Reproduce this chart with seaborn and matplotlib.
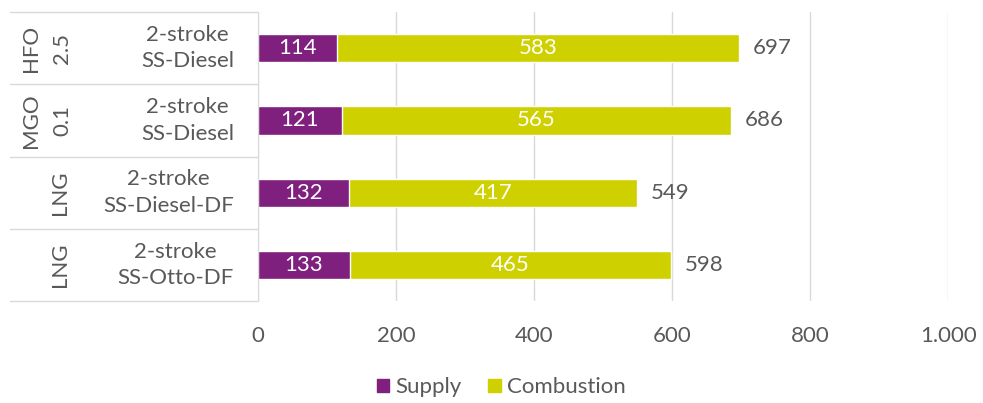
import pandas as pd
import matplotlib.pyplot as plt
import seaborn as sns
from matplotlib.patches import Patch
from matplotlib.transforms import blended_transform_factory

fuels = ['HFO\n2.5', 'MGO\n0.1', 'LNG', 'LNG']
engines = ['2-stroke\nSS-Diesel', '2-stroke\nSS-Diesel', '2-stroke\nSS-Diesel-DF', '2-stroke\nSS-Otto-DF']
supply = [114, 121, 132, 133]
combustion = [583, 565, 417, 465]
xticks = [0, 200, 400, 600, 800, 1000]
xtick_labels = ['0', '200', '400', '600', '800', '1.000']

purple = '#7f1f7e'
yellow = '#cfd000'
gray = '#595959'
fs = 16

sns.set_style('white')
plt.rcParams['font.family'] = ['Lato', 'DejaVu Sans']

df = pd.DataFrame({'row': [str(i) for i in range(len(supply))],
                   'Supply': supply, 'Combustion': combustion})
df['Total'] = df['Supply'] + df['Combustion']

fig = plt.figure(figsize=(9.83, 4.03), dpi=100)
ax = fig.add_axes([0.2625, 0.253, 0.702, 0.717])

# stacked: draw the total in yellow, then supply on top in purple
sns.barplot(data=df, x='Total', y='row', color=yellow, width=0.39, ax=ax, saturation=1)
sns.barplot(data=df, x='Supply', y='row', color=purple, width=0.39, ax=ax, saturation=1)

ax.set_xlim(0, 1000)
ax.set_ylim(3.5, -0.5)
ax.set_xticks(xticks)
ax.set_xticklabels(xtick_labels, fontsize=fs, color=gray)
ax.tick_params(axis='x', length=0, pad=18)
ax.set_yticks([])
ax.set_xlabel('')
ax.set_ylabel('')
ax.grid(axis='x', color='#d9d9d9', linewidth=1)
ax.set_axisbelow(True)
for s in ['top', 'right', 'bottom']:
    ax.spines[s].set_visible(False)
ax.spines['left'].set_color('#d9d9d9')

for i in range(len(supply)):
    ax.text(supply[i] / 2, i, str(supply[i]), ha='center', va='center', color='white', fontsize=fs)
    ax.text(supply[i] + combustion[i] / 2, i, str(combustion[i]), ha='center', va='center', color='white', fontsize=fs)
    ax.text(supply[i] + combustion[i] + 20, i, str(supply[i] + combustion[i]), ha='left', va='center', color=gray, fontsize=fs)

# multi-level category labels on the left
trans = blended_transform_factory(ax.transAxes, ax.transData)
for y in [-0.5, 0.5, 1.5, 2.5, 3.5]:
    ax.plot([-0.359, 0], [y, y], color='#d9d9d9', linewidth=1, transform=trans, clip_on=False)

for i in range(len(fuels)):
    ax.text(-0.035, i, engines[i], ha='right', va='center', multialignment='center',
            color=gray, fontsize=fs, transform=trans, linespacing=1.4)
    parts = fuels[i].split('\n')
    if len(parts) == 2:
        ax.text(-0.329, i, parts[0], rotation=90, ha='center', va='center', color=gray, fontsize=fs, transform=trans)
        ax.text(-0.284, i, parts[1], rotation=90, ha='center', va='center', color=gray, fontsize=fs, transform=trans)
    else:
        ax.text(-0.287, i, parts[0], rotation=90, ha='center', va='center', color=gray, fontsize=fs, transform=trans)

handles = [Patch(color=purple, label='Supply'), Patch(color=yellow, label='Combustion')]
fig.legend(handles=handles, loc='lower center', bbox_to_anchor=(0.51, -0.035), ncol=2, frameon=False,
           fontsize=fs, labelcolor=gray, handlelength=0.55, handleheight=0.55, columnspacing=1.2, handletextpad=0.3)

fig.savefig('out.png', dpi=100)
